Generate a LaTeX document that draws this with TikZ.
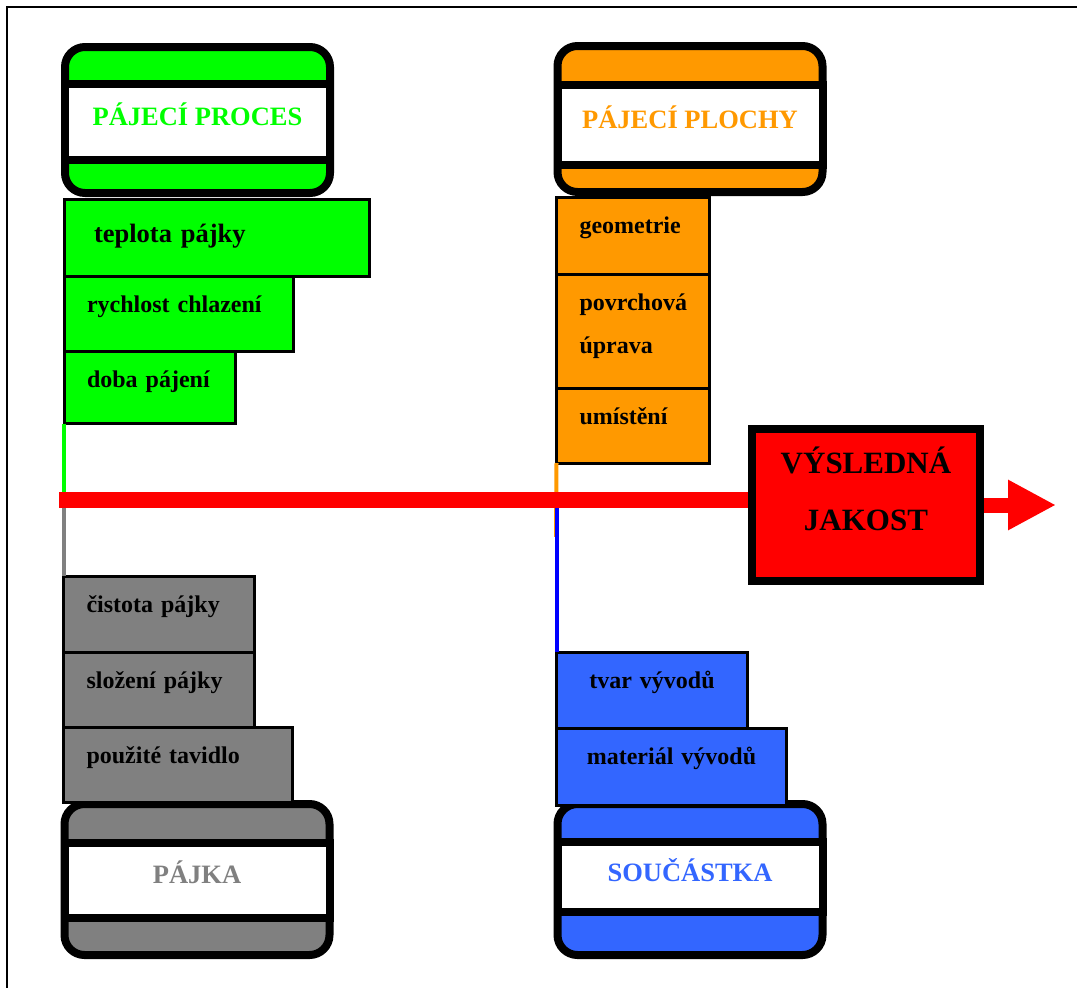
\documentclass[tikz,border=0pt]{standalone}
\usepackage{fontspec}
\setmainfont{Liberation Serif}
\usepackage{xcolor}
\definecolor{procesGreen}{HTML}{00FF00}
\definecolor{plochyOrange}{HTML}{FF9900}
\definecolor{pajkaGray}{HTML}{808080}
\definecolor{soucBlue}{HTML}{3366FF}
\definecolor{leadBlue}{HTML}{0000FF}
\definecolor{jakostRed}{HTML}{FF0000}
\usepackage{tikz}
\usetikzlibrary{arrows.meta,positioning}
\tikzset{
    header/.style={
        draw=black,
        rectangle,
        rounded corners=20pt,
        line width=8pt,
        minimum width=265pt,
        minimum height=146pt,
        inner sep=0pt
    },
    band/.style={
        draw=black,
        fill=white,
        rectangle,
        line width=8pt,
        minimum width=265pt,
        inner sep=0pt,
        text height=24pt,
        text depth=16.5pt,
        font=\bfseries\fontsize{26.5}{30}\selectfont
    },
    item/.style={
        draw=black,
        rectangle,
        line width=3pt,
        outer sep=0pt,
        inner xsep=23pt,
        inner ysep=0pt,
        align=left,
        text height=36pt,
        font=\bfseries\fontsize{24}{43.5}\selectfont
    },
    stub/.style={
        line width=4pt
    },
    mainline/.style={
        line width=15.5pt,
        color=jakostRed
    },
    result/.style={
        draw=black,
        fill=jakostRed,
        rectangle,
        line width=8pt,
        minimum width=228pt,
        minimum height=152pt,
        align=center,
        text height=87pt,
        text depth=37pt,
        font=\bfseries\fontsize{31}{57}\selectfont
    },
    resultarrow/.style={
        -{Triangle[length=48pt,width=47pt]},
        line width=15pt,
        color=jakostRed
    }
}
\begin{document}
\begin{tikzpicture}[x=1pt,y=-1pt]
    \useasboundingbox (0,0) rectangle (1077,988);
    \draw[line width=2pt] (1077,7) -- (7,7) -- (7,988);

    % Soldering process
    \node[header, fill=procesGreen] (proces) at (197.5,120) {};
    \node[band, text=procesGreen, minimum height=75.5pt] (procestitle) at ([yshift=-2pt]proces.center) {PÁJECÍ PROCES};
    \node[item, fill=procesGreen, text width=245pt, inner xsep=30pt, text height=43pt, text depth=34pt,
        font=\bfseries\fontsize{26.5}{30}\selectfont, below right=2.5pt and 3pt of proces.south west] (teplota) {teplota pájky};
    \node[item, fill=procesGreen, text width=183pt, text depth=39pt, below right=0pt and 0pt of teplota.south west] (rychlost) {rychlost chlazení};
    \node[item, fill=procesGreen, text width=125pt, text depth=36pt, below right=0pt and 0pt of rychlost.south west] (doba) {doba pájení};

    % Solder pads
    \node[header, fill=plochyOrange] (plochy) at (690,119) {};
    \node[band, text=plochyOrange, minimum height=80pt] (plochytitle) at ([yshift=-5.5pt]plochy.center) {PÁJECÍ PLOCHY};
    \node[item, fill=plochyOrange, text width=107pt, text depth=41pt, below right=1pt and 3pt of plochy.south west] (geometrie) {geometrie};
    \node[item, fill=plochyOrange, text width=107pt, text depth=78pt, below right=0pt and 0pt of geometrie.south west] (povrch) {povrchová\\úprava};
    \node[item, fill=plochyOrange, text width=107pt, text depth=39pt, below right=0pt and 0pt of povrch.south west] (umisteni) {umístění};

    % Solder
    \node[header, fill=pajkaGray, minimum height=151pt] (pajka) at (197,879.5) {};
    \node[band, text=pajkaGray, minimum height=75pt] (pajkatitle) at ([yshift=-0.5pt]pajka.center) {PÁJKA};
    \node[item, fill=pajkaGray, text width=183pt, text depth=39pt, above right=-2pt and 3pt of pajka.north west] (pouzite) {použité tavidlo};
    \node[item, fill=pajkaGray, text width=145pt, text depth=39pt, above right=0pt and 0pt of pouzite.north west] (slozeni) {složení pájky};
    \node[item, fill=pajkaGray, text width=145pt, text depth=40pt, above right=0pt and 0pt of slozeni.north west] (cistota) {čistota pájky};

    % Component
    \node[header, fill=soucBlue, minimum height=151pt] (soucastka) at (690,879.5) {};
    \node[band, text=soucBlue, minimum height=70pt] (soucastkatitle) at ([yshift=2.2pt]soucastka.center) {SOUČÁSTKA};
    \node[item, fill=soucBlue, align=center, text width=184pt, text depth=41pt, above right=-5pt and 3pt of soucastka.north west] (material) {materiál vývodů};
    \node[item, fill=soucBlue, align=center, text width=145pt, text depth=40pt, above right=0pt and 0pt of material.north west] (tvar) {tvar vývodů};

    % Result
    \node[result] (jakost) at (866,505) {VÝSLEDNÁ\\JAKOST};
    \coordinate (spine) at (59,500);
    \coordinate (plochyend) at (556,537);
    \coordinate (tip) at (1056,505);

    % Connections
    \draw[stub, draw=procesGreen] (doba.south west) -- (doba.south west |- spine);
    \draw[stub, draw=pajkaGray] (cistota.north west) -- (cistota.north west |- spine);
    \draw[stub, draw=plochyOrange] (umisteni.south west) -- (plochyend);
    \draw[stub, draw=leadBlue] (tvar.north west) -- (tvar.north west |- spine);
    \draw[mainline] (spine) -- (spine -| jakost.west);
    \draw[resultarrow] (jakost.east) -- (tip);
\end{tikzpicture}
\end{document}
